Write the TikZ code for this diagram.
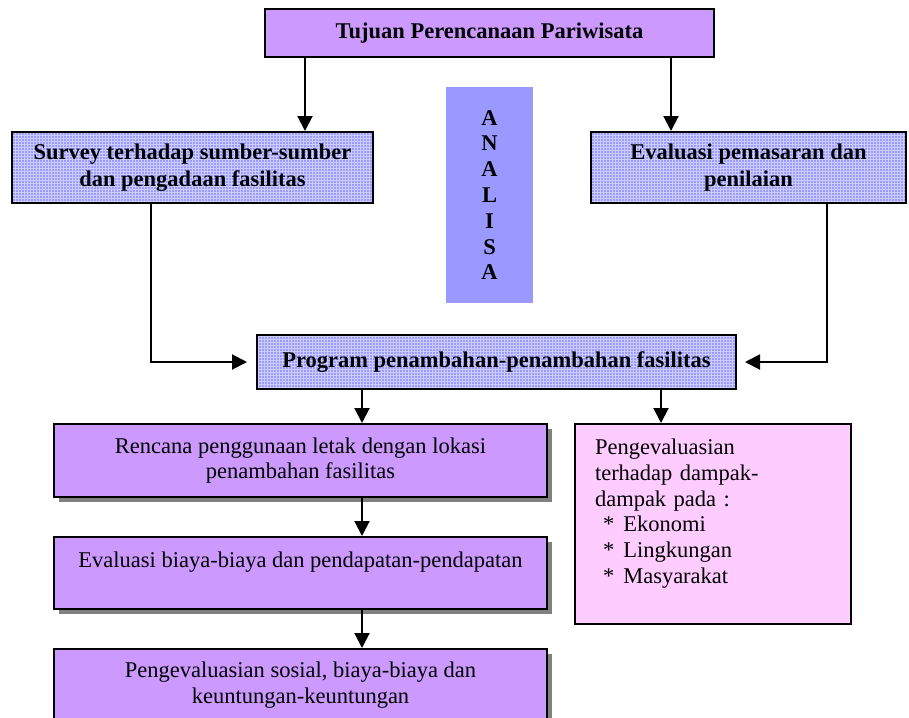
\documentclass[tikz,border=0pt]{standalone}
\usepackage{fontspec}
\setmainfont{Liberation Serif}
\usetikzlibrary{arrows.meta,shadows,patterns}
\definecolor{ungu}{HTML}{CC99FF}
\definecolor{merahmuda}{HTML}{FFCCFF}
\definecolor{analisa}{HTML}{9999FF}
\definecolor{birumuda}{HTML}{9C9CFF}
\definecolor{garisbiru}{HTML}{CCCCFF}
\begin{document}
\begin{tikzpicture}[x=1pt,y=-1pt,
    kotak/.style={draw=black, line width=2pt, align=center, inner sep=0pt,
        font=\fontsize{22.5}{25.8}\selectfont},
    kotakbiru/.style={kotak, preaction={fill=birumuda}, pattern=grid,
        pattern color=garisbiru, font=\bfseries\fontsize{22.5}{27}\selectfont},
    kotakungu/.style={kotak, fill=ungu,
        drop shadow={shadow xshift=5pt, shadow yshift=-5pt, fill=black!50, opacity=1}},
    panah/.style={line width=2pt, -{Triangle[width=15pt,length=15pt]}}]
    \useasboundingbox (0,0) rectangle (909,717);
    % kotak atas
    \node[kotak, fill=ungu, minimum width=449pt, minimum height=48pt,
        font=\bfseries\fontsize{22.5}{25.8}\selectfont] (tujuan) at (489.5,33) {Tujuan Perencanaan Pariwisata};
    \node[kotakbiru, minimum width=361pt, minimum height=71pt] (survey) at (192.5,167.5) {Survey terhadap sumber-sumber\\dan pengadaan fasilitas};
    \node[kotakbiru, minimum width=315pt, minimum height=71pt] (pemasaran) at (748.5,167.5) {Evaluasi pemasaran dan\\penilaian};
    \node[fill=analisa, minimum width=87pt, minimum height=216pt, inner sep=0pt, align=center,
        font=\bfseries\fontsize{22.5}{25.8}\selectfont] (analisa) at (489.5,195) {A\\N\\A\\L\\I\\S\\A};
    \node[kotakbiru, minimum width=479pt, minimum height=54pt] (program) at (496.5,362) {Program penambahan-penambahan fasilitas};
    % kotak bawah
    \node[kotakungu, minimum width=493pt, minimum height=73pt] (rencana) at (300.5,460.5) {Rencana penggunaan letak dengan lokasi\\penambahan fasilitas};
    \node[kotakungu, minimum width=493pt, minimum height=72pt] (biaya) at (300.5,573) {Evaluasi biaya-biaya dan pendapatan-pendapatan\\\mbox{}};
    \node[kotakungu, minimum width=493pt, minimum height=73pt] (sosial) at (300.5,685.5) {Pengevaluasian sosial, biaya-biaya dan\\keuntungan-keuntungan};
    \node[kotak, fill=merahmuda, minimum width=276pt, minimum height=200pt, text width=236pt,
        inner xsep=20pt, align=left] (dampak) at (713,524) {Pengevaluasian\\terhadap dampak-\\dampak pada :\\
        \hspace*{8pt}*\hspace*{9pt}Ekonomi\\\hspace*{8pt}*\hspace*{9pt}Lingkungan\\\hspace*{8pt}*\hspace*{9pt}Masyarakat\\\mbox{}};
    % panah
    \draw[panah] ([xshift=-184.5pt]tujuan.south) -- ([xshift=-184.5pt]tujuan.south |- survey.north);
    \draw[panah] ([xshift=181.5pt]tujuan.south) -- ([xshift=181.5pt]tujuan.south |- pemasaran.north);
    \draw[panah] ([xshift=-41.5pt]survey.south) |- ([xshift=-9pt]program.west);
    \draw[panah] ([xshift=78.5pt]pemasaran.south) |- ([xshift=8pt]program.east);
    \draw[panah] ([xshift=-134.5pt]program.south) -- ([xshift=-134.5pt]program.south |- rencana.north);
    \draw[panah] ([xshift=164.5pt]program.south) -- ([xshift=164.5pt]program.south |- dampak.north);
    \draw[panah] ([xshift=61.5pt]rencana.south) -- ([xshift=61.5pt]rencana.south |- biaya.north);
    \draw[panah] ([xshift=61.5pt]biaya.south) -- ([xshift=61.5pt]biaya.south |- sosial.north);
\end{tikzpicture}
\end{document}
